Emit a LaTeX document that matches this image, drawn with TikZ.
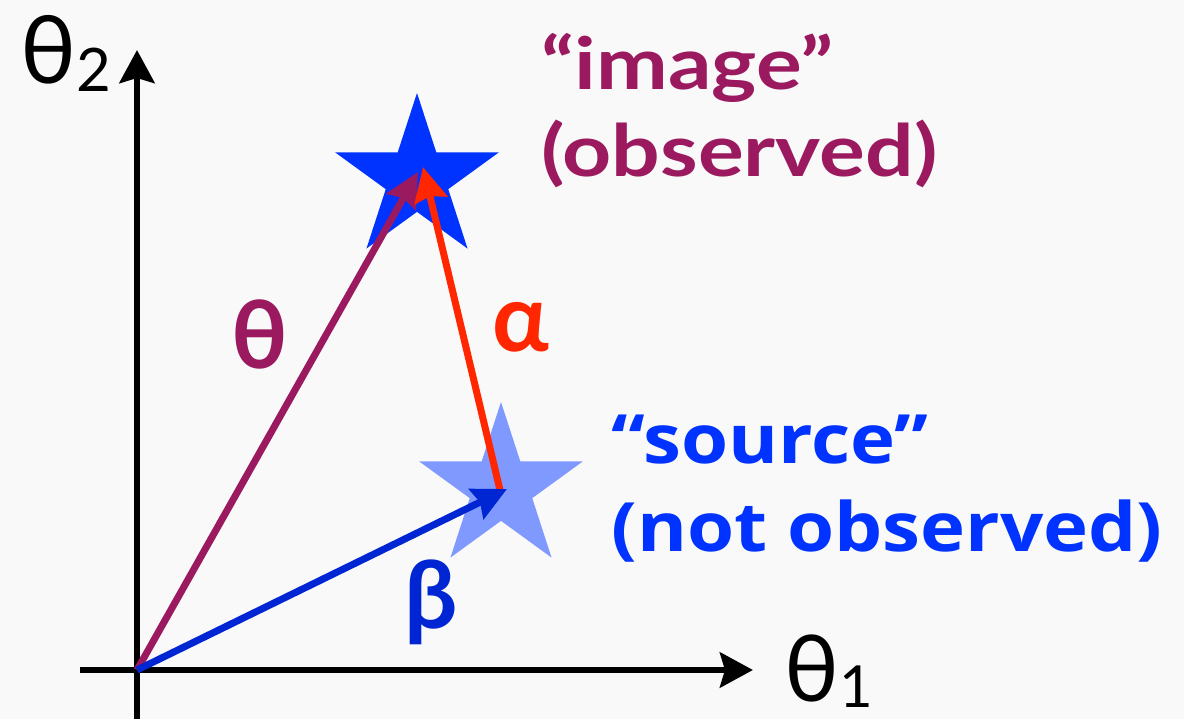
\documentclass[tikz,border=0pt]{standalone}
\usepackage{fontspec}
\setmainfont{Lato}
\newfontfamily\imgfont{Lato}[FakeStretch=1.19]
\newfontfamily\srcfont{Open Sans}[FakeStretch=1.12]
\usepackage{xcolor}
\usetikzlibrary{shapes.geometric,arrows.meta}
\definecolor{bggray}{RGB}{249,249,249}
\definecolor{imgcol}{RGB}{155,25,95}
\definecolor{starblue}{RGB}{0,51,255}
\definecolor{srcstar}{RGB}{128,153,255}
\definecolor{alphared}{RGB}{255,38,0}
\definecolor{betablue}{RGB}{0,38,212}

\begin{document}
\begin{tikzpicture}[x=1pt,y=-1pt,
		axis/.style={line width=6.5pt, -{Stealth[length=33pt,width=35pt,inset=5pt]}},
		vec/.style={line width=7pt, -{Stealth[length=34pt,width=33pt,inset=4pt]}},
		starshape/.style={star, star points=5, star point ratio=2.618, minimum size=172pt, inner sep=0pt},
		imgtext/.style={anchor=base west, text=imgcol, font=\imgfont\fontsize{72}{80}\selectfont\bfseries},
		srctext/.style={anchor=base west, text=starblue, font=\srcfont\fontsize{68}{76}\selectfont\bfseries},
		greek/.style={font=\fontsize{94}{100}\selectfont\bfseries}]
			\fill[bggray] (0,0) rectangle (1184,719);
			\useasboundingbox (0,0) rectangle (1184,719);

			\coordinate (O) at (137,670);
			\coordinate (ybot) at (137,719);
			\coordinate (ytop) at (137,50);
			\coordinate (xleft) at (80,670);
			\coordinate (xright) at (753,670);

			\draw[axis] (ybot) to (ytop);
			\draw[axis] (xleft) to (xright);

			\node[anchor=base west, inner sep=0pt, font=\fontsize{94}{100}\selectfont] (t2) at (20,84) {θ\raisebox{-8pt}{\fontsize{60}{60}\selectfont 2}};
			\node[anchor=base west, inner sep=0pt, font=\fontsize{92}{100}\selectfont] (t1) at (784,701) {θ\raisebox{-6pt}{\fontsize{58}{60}\selectfont 1}};

			\node[starshape, fill=starblue] (img) at (417,179) {};
			\node[starshape, fill=srcstar] (src) at (501,488) {};

			\coordinate (imgth) at (418,172);
			\coordinate (imgal) at (423,167);
			\coordinate (srcpt) at (500,490);
			\coordinate (srcbe) at (507,489);

			\draw[vec, imgcol] (O) to (imgth);
			\draw[vec, alphared] (srcpt) to (imgal);
			\draw[vec, betablue] (O) to (srcbe);

			\node[greek, text=imgcol] (thlab) at (260,334) {θ};
			\node[greek, text=alphared] (allab) at (521,327) {α};
			\node[greek, text=betablue] (belab) at (431,602) {β};

			\node[imgtext] (imgA) at (538,90) {“image”};
			\node[imgtext] (imgB) at (538,177) {(observed)};
			\node[srctext] (srcA) at (608,463) {“source”};
			\node[srctext] (srcB) at (608,551) {(not observed)};

		\end{tikzpicture}
\end{document}
